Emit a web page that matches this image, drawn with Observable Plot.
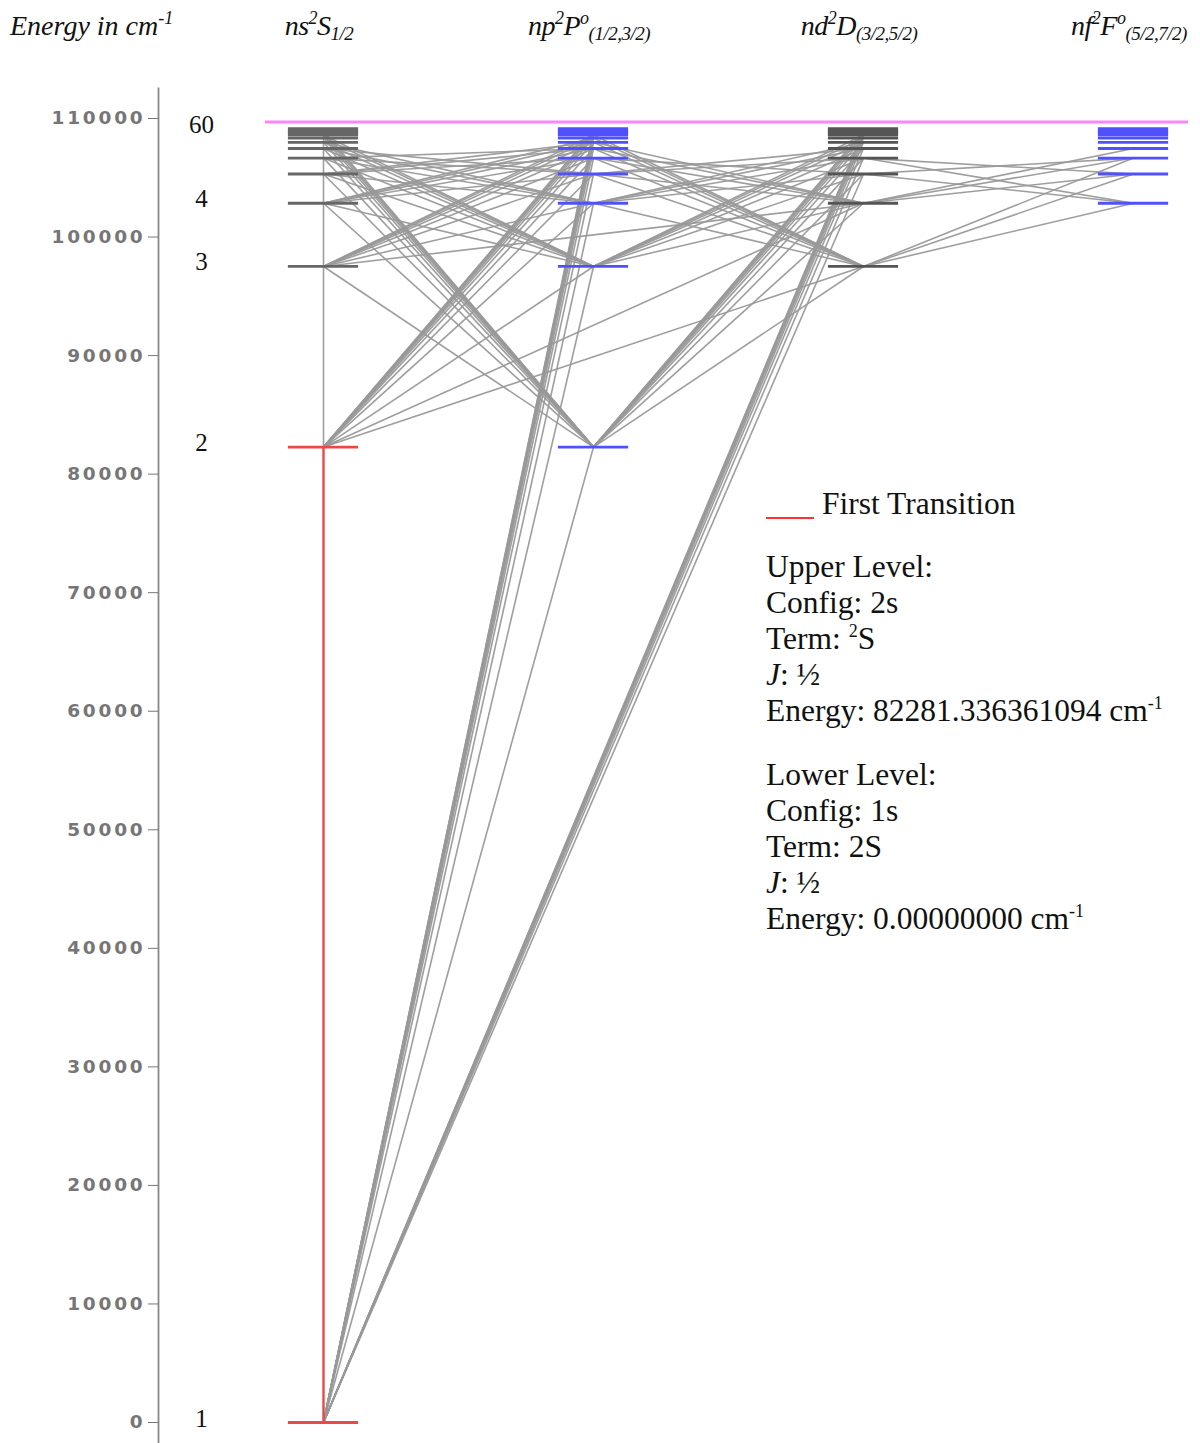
<!DOCTYPE html>
<html>
<head>
<meta charset="utf-8">
<script src="https://cdn.jsdelivr.net/npm/d3@7"></script>
<script src="https://cdn.jsdelivr.net/npm/@observablehq/plot@0.6"></script>
<style>
  body { margin: 0; background: #fff; }
  #wrap { position: relative; width: 1200px; height: 1443px; overflow: hidden; background: #fff; }
  #wrap svg { position: absolute; left: 0; top: 0; }
  .hdr { position: absolute; top: 10px; font-family: "Liberation Serif", serif; font-style: italic; font-size: 28px; white-space: nowrap; color: #111; transform: translateX(-50%); letter-spacing: -0.5px; }
  .hdr sub { font-size: 19px; vertical-align: baseline; position: relative; top: 5px; line-height: 0; }
  .hdr sup { font-size: 18px; vertical-align: baseline; position: relative; top: -11px; line-height: 0; }
  .ylab { position: absolute; left: 10px; top: 10px; font-family: "Liberation Serif", serif; font-style: italic; font-size: 28px; white-space: nowrap; color: #111; }
  .ylab sup { font-size: 18px; vertical-align: baseline; position: relative; top: -11px; line-height: 0; }
  .info { position: absolute; left: 766px; font-family: "Liberation Serif", serif; font-size: 31.5px; line-height: 36px; color: #111; white-space: nowrap; }
  .info sup { font-size: 18px; vertical-align: baseline; position: relative; top: -12px; line-height: 0; }
  .legline { position: absolute; left: 766px; top: 517px; width: 48px; height: 2px; background: #ff3030; }
  g[aria-label="y-axis tick label"] text { letter-spacing: 2.8px; font-family: "DejaVu Sans", sans-serif; font-weight: bold; font-size: 18.5px; fill: #767676; }
</style>
</head>
<body>
<div id="wrap"></div>
<script>
// ---- data ----
const columns = ["s", "p", "d", "f"];
const columnLowestN = [1, 2, 3, 4];
const headerLabels = [
  "ns<sup>2</sup>S<sub>1/2</sub>",
  "np<sup>2</sup>P<sup>o</sup><sub>(1/2,3/2)</sub>",
  "nd<sup>2</sup>D<sub>(3/2,5/2)</sub>",
  "nf<sup>2</sup>F<sup>o</sup><sub>(5/2,7/2)</sub>"
];
const levelN = [1, 2, 3, 4, 5, 6, 7, 8, 9, 10, 11, 12, 60];
const levelE = [0, 82281.34, 97518, 102851, 105320, 106661, 107469, 107994, 108354, 108611, 108801, 108946, 109150];
const labelledN = [1, 2, 3, 4, 60];
const ionizationLimit = 109700;
const yTicks = [0, 10000, 20000, 30000, 40000, 50000, 60000, 70000, 80000, 90000, 100000, 110000];
const firstTransition = ["1s-2s"];
const transitions = [
  // s - p
  "1s-2p","1s-3p","1s-4p","1s-5p","1s-6p","1s-7p","1s-8p","1s-9p","1s-10p","1s-11p","1s-12p",
  "2s-3p","2s-4p","2s-5p","2s-6p","2s-7p","2s-8p","2s-9p","2s-10p","2s-11p","2s-12p",
  "3s-2p","3s-4p","3s-5p","3s-6p","3s-7p","3s-8p","3s-9p","3s-10p",
  "4s-2p","4s-3p","4s-5p","4s-6p","4s-7p","4s-8p","4s-9p",
  "5s-2p","5s-3p","5s-4p","5s-6p","5s-7p","5s-8p",
  "6s-2p","6s-3p","6s-4p","6s-5p","6s-7p",
  "7s-2p","7s-3p","7s-4p","7s-5p",
  "8s-2p","8s-3p","8s-4p",
  "9s-2p","9s-3p","10s-2p","10s-3p","11s-2p","12s-2p",
  "2s-60s",
  // s - d
  "1s-5d","1s-6d","1s-7d","1s-8d","1s-9d","1s-10d","1s-11d","1s-12d",
  "2s-3d","2s-4d","3s-4d",
  // p - d
  "2p-3d","2p-4d","2p-5d","2p-6d","2p-7d","2p-8d","2p-9d","2p-10d","2p-11d","2p-12d",
  "3p-4d","3p-5d","3p-6d","3p-7d","3p-8d","3p-9d","3p-10d",
  "4p-3d","4p-5d","4p-6d","4p-7d","4p-8d",
  "5p-3d","5p-4d","5p-6d","5p-7d",
  "6p-3d","6p-4d","6p-5d",
  "7p-3d","7p-4d","8p-3d","8p-4d","9p-3d","10p-3d",
  // d - f
  "3d-4f","3d-5f","3d-6f","4d-5f","4d-6f","4d-7f","5d-4f","5d-6f","6d-4f","6d-5f"
];

// ---- build tables from the arrays ----
const energyOf = n => levelE[levelN.indexOf(n)];
const parseLevel = s => { const m = s.match(/^(\d+)([spdf])$/); return { n: +m[1], col: columns.indexOf(m[2]) }; };
const toLink = t => { const [a, b] = t.split("-").map(parseLevel); return { x1: a.col, y1: energyOf(a.n), x2: b.col, y2: energyOf(b.n) }; };
const links = transitions.map(toLink);
const firstLinks = firstTransition.map(toLink);

const levels = [];
columns.forEach((c, ci) => {
  levelN.forEach((n, k) => {
    if (n >= columnLowestN[ci]) {
      let color = (c === "p" || c === "f") ? "#5050ff" : (c === "d" ? "#555555" : "#666666");
      if (c === "s" && (n === 1 || n === 2)) color = "#e84a4a";
      levels.push({ col: ci, n, E: levelE[k], color });
    }
  });
});
const labels = labelledN.map(n => ({ n, E: energyOf(n) }));

const halfW = 0.13;
const plot = Plot.plot({
  width: 1200,
  height: 1443,
  marginLeft: 158,
  marginTop: 88,
  marginBottom: 0,
  marginRight: 0,
  x: { domain: [0, 3], range: [323, 1133], axis: null },
  y: { domain: [0, 110000], range: [1422, 118], axis: null },
  style: { background: "transparent" },
  marks: [
    Plot.frame({ anchor: "left", stroke: "#888", strokeWidth: 1.8 }),
    Plot.axisY({ ticks: yTicks, tickFormat: d => String(d), tickSize: 10, tickPadding: 3, stroke: "#777", anchor: "left" }),
    Plot.ruleY([ionizationLimit], { stroke: "#ff85ff", strokeWidth: 3, insetLeft: 107, insetRight: 12 }),
    Plot.link(links, { x1: "x1", y1: "y1", x2: "x2", y2: "y2", stroke: "#999", strokeWidth: 1.6, strokeOpacity: 0.95 }),
    Plot.ruleY(levels, { y: "E", x1: d => d.col - halfW, x2: d => d.col + halfW, stroke: "color", strokeWidth: 2.8 }),
    Plot.link(firstLinks, { x1: "x1", y1: "y1", x2: "x2", y2: "y2", stroke: "#e84a4a", strokeWidth: 2.4 }),
    Plot.text(labels, { x: 0, y: "E", text: d => String(d.n), dx: -122, dy: -4, fontFamily: "Liberation Serif", fontSize: 25, fill: "#111" })
  ]
});

const wrap = document.getElementById("wrap");
wrap.appendChild(plot);

// header
const ylab = document.createElement("div");
ylab.className = "ylab";
ylab.innerHTML = "Energy in cm<sup>-1</sup>";
wrap.appendChild(ylab);
const xs = plot.scale("x");
headerLabels.forEach((h, i) => {
  const d = document.createElement("div");
  d.className = "hdr";
  d.innerHTML = h;
  d.style.left = (xs.apply(i) - 4) + "px";
  wrap.appendChild(d);
});

// info box
const leg = document.createElement("div"); leg.className = "legline"; wrap.appendChild(leg);
const legText = document.createElement("div"); legText.className = "info"; legText.style.left = "822px"; legText.style.top = "486px"; legText.textContent = "First Transition"; wrap.appendChild(legText);
const upper = document.createElement("div"); upper.className = "info"; upper.style.top = "549px";
upper.innerHTML = "Upper Level:<br>Config: 2s<br>Term: <sup>2</sup>S<br><i>J</i>: ½<br>Energy: 82281.336361094 cm<sup>-1</sup>";
wrap.appendChild(upper);
const lower = document.createElement("div"); lower.className = "info"; lower.style.top = "757px";
lower.innerHTML = "Lower Level:<br>Config: 1s<br>Term: 2S<br><i>J</i>: ½<br>Energy: 0.00000000 cm<sup>-1</sup>";
wrap.appendChild(lower);
</script>
</body>
</html>
